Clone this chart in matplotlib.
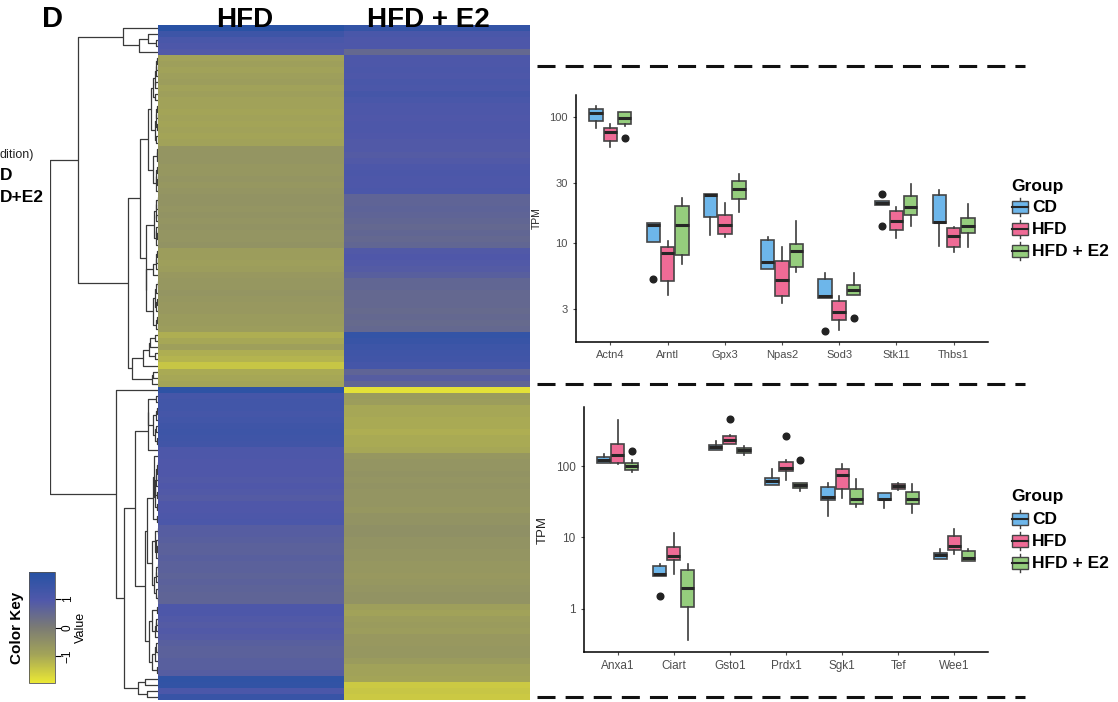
import numpy as np
import matplotlib
matplotlib.use('Agg')
from matplotlib import pyplot as plt
from matplotlib.colors import LinearSegmentedColormap, Normalize
from matplotlib.cm import ScalarMappable
from matplotlib.patches import Rectangle

plt.rcParams['font.family'] = ['Liberation Sans', 'DejaVu Sans']

W, H = 1118, 702

# heatmap rows (row-scaled values), top cluster then bottom cluster
hfd_values = [
    1.85, 1.4, 1.1, 1.0, 0.9,
    -0.9, -0.85, -0.9, -0.85, -0.8, -0.9, -0.85, -0.9, -0.9, -0.95, -0.9, -0.95, -0.9, -0.95, -0.9,
    -0.6, -0.6, -0.6, -0.65, -0.65, -0.6, -0.65, -0.6, -0.55, -0.55, -0.6, -0.55, -0.6, -0.55, -0.6,
    -0.6, -0.55, -0.8, -0.8, -0.85, -0.8, -0.7, -0.65, -0.65, -0.6, -0.65, -0.7, -0.7, -0.75, -0.75,
    -0.8, -1.1, -1.0, -0.85, -1.1, -1.2, -1.45, -1.05, -1.0, -0.95,
    1.75, 1.2, 1.25, 1.25, 1.2, 1.25, 1.35, 1.4, 1.35, 1.3, 1.0, 1.0, 0.95, 0.95, 0.95, 0.9, 0.95,
    0.9, 0.85, 0.95, 0.95, 1.0, 1.05, 0.8, 0.8, 0.75, 0.7, 0.7, 0.75, 0.7, 0.7, 0.65, 0.7, 0.65,
    0.6, 0.6, 1.0, 1.0, 0.9, 0.85, 0.9, 0.85, 0.75, 0.7, 0.7, 0.75, 0.75, 0.8, 1.7, 1.65, 1.05, 1.5,
]
e2_values = [
    1.6, 1.1, 1.0, 1.0, 0.5,
    1.0, 1.0, 1.05, 1.0, 1.1, 1.05, 1.2, 1.1, 1.0, 1.0, 0.95, 1.0, 1.0, 0.95, 0.9,
    0.9, 0.85, 0.9, 1.0, 1.05, 1.0, 1.0, 1.05, 0.6, 0.6, 0.65, 0.6, 0.55, 0.5, 0.55,
    0.5, 0.55, 0.9, 0.95, 0.9, 0.85, 0.75, 0.55, 0.55, 0.5, 0.5, 0.5, 0.45, 0.5, 0.45,
    0.5, 1.6, 1.5, 1.4, 1.35, 1.3, 1.2, 0.6, 0.8, 0.55,
    -1.85, -0.75, -0.8, -1.0, -1.0, -1.05, -1.05, -1.1, -1.05, -1.05, -1.0, -0.65, -0.6, -0.6, -0.55,
    -0.6, -0.55, -0.6, -0.6, -0.6, -0.65, -0.55, -0.55, -0.5, -0.5, -0.55, -0.55, -0.6, -0.6, -0.65,
    -0.65, -0.7, -0.65, -0.6, -0.55, -0.55, -0.85, -0.9, -0.8, -0.75, -0.8, -0.7, -0.7, -0.65, -0.65,
    -0.75, -0.9, -0.9, -0.95, -1.5, -1.45, -1.5,
]
heat_columns = ['HFD', 'HFD + E2']

group_labels = ['CD', 'HFD', 'HFD + E2']
group_colors = ['#6db6ea', '#ef6b96', '#95cd7d']

# (lower whisker, q1, median, q3, upper whisker)
top_genes = ['Actn4', 'Arntl', 'Gpx3', 'Npas2', 'Sod3', 'Stk11', 'Thbs1']
top_cd = [(82.7, 94, 107.6, 115.8, 123), (10.3, 10.3, 14.0, 14.6, 14.6), (11.6, 16.1, 24.2, 24.6, 24.6),
          (6.2, 6.2, 7.1, 10.7, 11.3), (3.66, 3.66, 3.79, 5.21, 5.78), (20.1, 20.1, 21.0, 21.7, 21.7),
          (9.5, 14.6, 14.8, 24.0, 26.5)]
top_hfd = [(58.5, 64.9, 76.4, 81.8, 88.5), (3.89, 5.05, 8.32, 9.29, 10.4), (11.15, 11.85, 14.06, 16.7, 20.8),
           (3.34, 3.82, 5.14, 7.28, 9.29), (2.05, 2.46, 2.85, 3.5, 3.84), (10.95, 12.75, 15.0, 18.2, 19.5),
           (8.58, 9.4, 11.4, 13.15, 13.55)]
top_e2 = [(85.8, 88, 98.2, 109.6, 110.5), (6.81, 8.12, 13.97, 19.8, 23.0), (17.8, 22.3, 27.0, 31.2, 35.5),
          (5.88, 6.53, 8.74, 9.81, 15.0), (3.89, 3.89, 4.26, 4.7, 5.85), (13.7, 16.7, 19.3, 23.7, 29.6),
          (9.29, 12.1, 13.8, 15.8, 20.5)]
top_fliers = [{'Arntl': [5.2], 'Sod3': [2.03], 'Stk11': [24.5, 13.8]},
              {},
              {'Actn4': [68.9], 'Sod3': [2.54]}]

bottom_genes = ['Anxa1', 'Ciart', 'Gsto1', 'Prdx1', 'Sgk1', 'Tef', 'Wee1']
bottom_cd = [(111.5, 111.5, 120.2, 133.9, 149), (2.87, 2.87, 3.09, 3.92, 4.27), (166, 169.6, 184.9, 199.4, 222),
             (53.6, 53.6, 61.0, 68.7, 91.8), (19.7, 33.0, 36.8, 50.8, 57.8), (26.1, 33.0, 34.9, 41.9, 41.9),
             (5.02, 5.02, 5.59, 6.03, 6.79)]
bottom_hfd = [(108, 111.5, 141.4, 201.6, 447), (3.09, 4.86, 5.47, 7.32, 11.6), (206, 206, 234, 261, 269.5),
              (63.0, 84.3, 93.9, 113.9, 120.2), (36.0, 48.2, 74.1, 89.9, 108), (46.6, 47.6, 52.5, 56.6, 57.8),
              (5.78, 6.71, 7.56, 10.3, 13.2)]
bottom_e2 = [(83.4, 88.9, 100.1, 110.3, 120), (0.359, 1.05, 1.95, 3.45, 4.27), (144.4, 152.3, 166, 179, 191),
             (44.7, 49.7, 53.6, 57.8, 57.8), (26.6, 29.7, 34.5, 48.2, 66.5), (21.9, 29.0, 34.9, 43.2, 56.6),
             (4.61, 4.61, 5.13, 6.36, 6.94)]
bottom_fliers = [{'Ciart': [1.5]},
                 {'Gsto1': [461.7], 'Prdx1': [261]},
                 {'Anxa1': [162.5], 'Prdx1': [120.2]}]


def px_axes(fig, left, top, right, bottom):
    return fig.add_axes([left / W, 1 - bottom / H, (right - left) / W, (bottom - top) / H])


def ordered_linkage(rows):
    # complete linkage, merging only neighbouring clusters so the row order is kept
    clusters = [dict(members=[i], h=0.0, y=i + 0.5) for i in range(len(rows))]
    segments = []
    while len(clusters) > 1:
        best = None
        for k in range(len(clusters) - 1):
            a = rows[clusters[k]['members']]
            b = rows[clusters[k + 1]['members']]
            d = np.sqrt(((a[:, None, :] - b[None, :, :]) ** 2).sum(-1)).max()
            if best is None or d < best[0]:
                best = (d, k)
        d, k = best
        c1, c2 = clusters[k], clusters[k + 1]
        h = max(d, c1['h'], c2['h'])
        segments.append(([c1['h'], h, h, c2['h']], [c1['y'], c1['y'], c2['y'], c2['y']]))
        clusters[k:k + 2] = [dict(members=c1['members'] + c2['members'], h=h, y=(c1['y'] + c2['y']) / 2)]
    return segments, clusters[0]['h']


def draw_boxes(ax, genes, groups, fliers, fontsize):
    for g, rows in enumerate(groups):
        stats = []
        for gene, (lo, q1, med, q3, hi) in zip(genes, rows):
            stats.append(dict(whislo=lo, q1=q1, med=med, q3=q3, whishi=hi,
                              fliers=fliers[g].get(gene, [])))
        pos = np.arange(1, len(genes) + 1) + (g - 1) * 0.25
        ax.bxp(stats, positions=pos, widths=0.235, patch_artist=True, showcaps=False,
               boxprops=dict(facecolor=group_colors[g], edgecolor='#454545', linewidth=1.2),
               medianprops=dict(color='#262626', linewidth=2.2),
               whiskerprops=dict(color='#3c3c3c', linewidth=1.2),
               flierprops=dict(marker='o', markerfacecolor='#222222', markeredgecolor='#222222',
                               markersize=4.8))
    ax.set_yscale('log')
    ax.set_xlim(0.4, len(genes) + 0.6)
    ax.set_xticks(np.arange(1, len(genes) + 1))
    ax.set_xticklabels(genes)
    ax.minorticks_off()
    for side in ['top', 'right']:
        ax.spines[side].set_visible(False)
    for side in ['left', 'bottom']:
        ax.spines[side].set_linewidth(1.1)
    ax.tick_params(colors='#4d4d4d', labelsize=fontsize, length=2.5, width=0.8)


fig = plt.figure(figsize=(W / 100, H / 100), dpi=100)

cmap = LinearSegmentedColormap.from_list('key', [
    (0.0, '#ebe834'), (0.256, '#a3a458'), (0.5, '#7b7b74'), (0.744, '#5058aa'), (1.0, '#2652a4')])
norm = Normalize(-1.95, 1.95)

# heatmap
heat = np.column_stack([hfd_values, e2_values])
n_rows = heat.shape[0]
ax_h = px_axes(fig, 158, 25, 530, 700)
ax_h.imshow(heat, cmap=cmap, norm=norm, aspect='auto', interpolation='nearest',
            extent=(0, 2, n_rows, 0))
ax_h.set_axis_off()

# row dendrogram
segments, top_height = ordered_linkage(heat)
ax_d = px_axes(fig, 50, 25, 158, 700)
for xs, ys in segments:
    ax_d.plot(xs, ys, color='#3a3a3a', lw=0.9, solid_capstyle='butt')
ax_d.set_xlim(top_height, 0)
ax_d.set_ylim(n_rows, 0)
ax_d.set_axis_off()

# color key
ax_k = px_axes(fig, 29, 572, 55, 683)
cbar = fig.colorbar(ScalarMappable(norm=norm, cmap=cmap), cax=ax_k, ticks=[-1, 0, 1])
cbar.outline.set_linewidth(0.6)
cbar.outline.set_edgecolor('#555555')
ax_k.tick_params(labelsize=8.5, length=4, width=0.8, labelrotation=90, pad=1)
for t in ax_k.get_yticklabels():
    t.set_va('center')
cbar.set_label('Value', fontsize=9, labelpad=1)

# box plots
ax_top = px_axes(fig, 576, 95, 988, 342)
draw_boxes(ax_top, top_genes, [top_cd, top_hfd, top_e2], top_fliers, 8)
ax_top.set_ylim(1.65, 150)
ax_top.set_yticks([3, 10, 30, 100])
ax_top.set_yticklabels(['3', '10', '30', '100'])
ax_top.set_ylabel('TPM', fontsize=7.5, color='#222222', labelpad=5)

ax_bot = px_axes(fig, 584, 407, 988, 652)
draw_boxes(ax_bot, bottom_genes, [bottom_cd, bottom_hfd, bottom_e2], bottom_fliers, 8.5)
ax_bot.set_ylim(0.246, 676)
ax_bot.set_yticks([1, 10, 100])
ax_bot.set_yticklabels(['1', '10', '100'])
ax_bot.set_ylabel('TPM', fontsize=9.5, color='#222222', labelpad=5)

# overlay in pixel coordinates for titles, legends and separators
ov = fig.add_axes([0, 0, 1, 1])
ov.set_xlim(0, W)
ov.set_ylim(H, 0)
ov.set_axis_off()
ov.patch.set_alpha(0)

ov.text(52, 27, 'D', fontsize=21, fontweight='bold', ha='center', va='baseline')
ov.text(245, 27, heat_columns[0], fontsize=20, fontweight='bold', ha='center', va='baseline')
ov.text(428, 27, heat_columns[1], fontsize=20, fontweight='bold', ha='center', va='baseline')
ov.text(0, 155, 'dition)', fontsize=9, ha='left', va='center', color='#222222')
ov.text(0, 176, 'D', fontsize=12.5, fontweight='bold', ha='left', va='center')
ov.text(0, 197, 'D+E2', fontsize=12.5, fontweight='bold', ha='left', va='center')
ov.text(17, 628, 'Color Key', fontsize=11, fontweight='bold', rotation=90, ha='center', va='center')

for y in [66, 384, 697]:
    ov.plot([537, 1025], [y, y], color='#111111', lw=2.2, dashes=(5.9, 3.3))


def draw_legend(x, y_title, ys):
    ov.text(x, y_title, 'Group', fontsize=12.5, fontweight='bold', ha='left', va='center')
    for yc, color, label in zip(ys, group_colors, group_labels):
        ov.plot([x + 9, x + 9], [yc - 9, yc + 9], color='#3c3c3c', lw=1)
        ov.add_patch(Rectangle((x + 1, yc - 6), 16, 12, facecolor=color, edgecolor='#454545', lw=1, zorder=3))
        ov.plot([x + 1, x + 17], [yc, yc], color='#262626', lw=1.5, zorder=4)
        ov.text(x + 21, yc, label, fontsize=12.5, fontweight='bold', ha='left', va='center')


draw_legend(1011, 186, [207, 229, 251])
draw_legend(1011, 497, [519, 541, 563])

fig.savefig('out.png', dpi=100)
